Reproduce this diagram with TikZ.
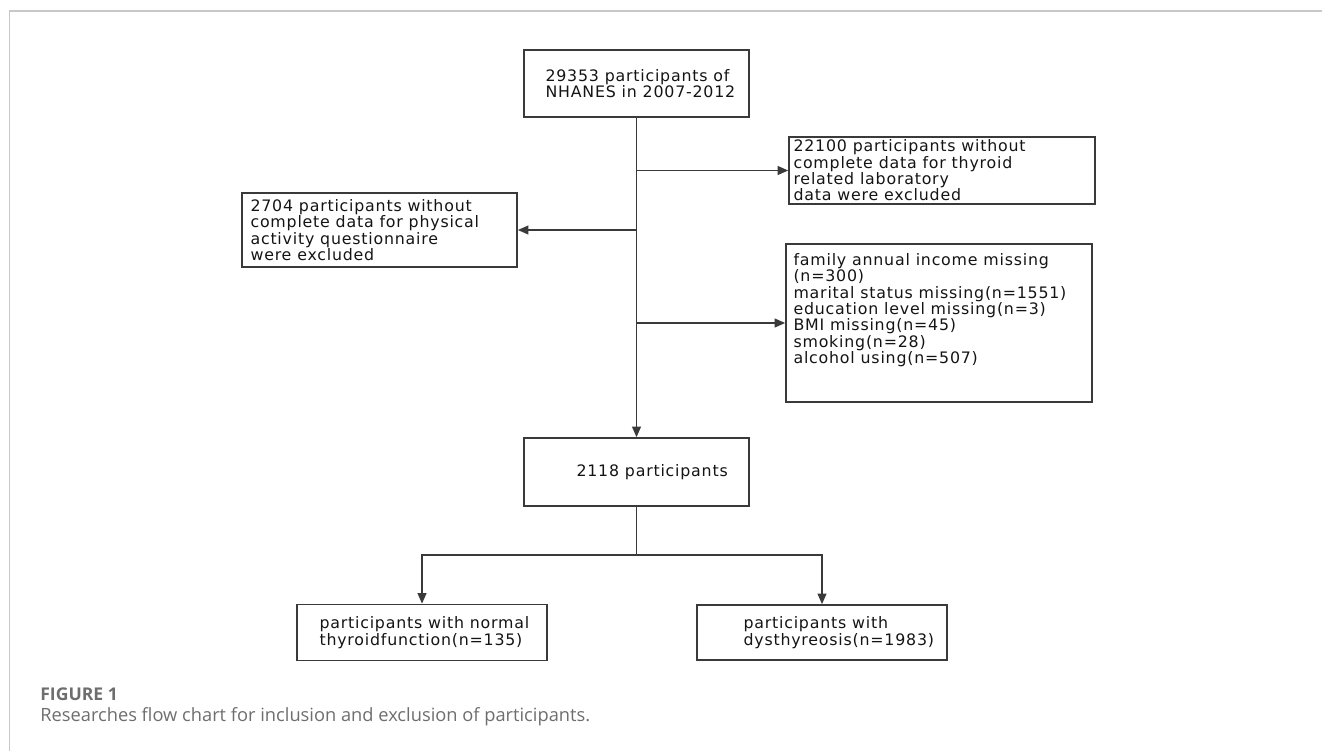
\documentclass[tikz,border=0pt]{standalone}
\usepackage{fontspec}
\usepackage{tikz}
\usetikzlibrary{arrows.meta}
\usetikzlibrary{positioning}
\newfontfamily\boxfont[LetterSpace=5]{DejaVu Sans}
\newfontfamily\capfont{Open Sans}
\definecolor{boxline}{HTML}{3A3A3A}
\definecolor{frameline}{HTML}{C8C8C8}
\definecolor{capgray}{HTML}{6E6E6E}
\tikzset{
    flowbox/.style={draw=boxline, line width=0.95pt, rectangle, inner sep=0pt},
    boxtext/.style={inner sep=0pt, align=left, text=black!92,
        font=\boxfont\fontsize{9}{9.3}\selectfont},
    flow/.style={draw=boxline, line width=0.95pt, -{Triangle[length=6pt,width=5pt]}},
    link/.style={draw=boxline, line width=0.95pt},
    captext/.style={anchor=west, inner sep=0pt, text=capgray},
}

\begin{document}
\begin{tikzpicture}[x=0.02cm, y=-0.02cm]
\useasboundingbox (0,0) rectangle (1322,751);
% panel frame
\draw[frameline, line width=0.6pt] (1322,11) -- (9.5,11) -- (9.5,751);

% boxes
\node[flowbox, minimum width=4.5cm, minimum height=1.34cm] (start) at (636.5,83.5) {};
\node[flowbox, minimum width=6.12cm, minimum height=1.34cm] (lab) at (942,170.5) {};
\node[flowbox, minimum width=5.5cm, minimum height=1.48cm] (pa) at (379.5,230) {};
\node[flowbox, minimum width=6.12cm, minimum height=3.16cm] (cov) at (939,323) {};
\node[flowbox, minimum width=4.5cm, minimum height=1.36cm] (final) at (636.5,472) {};
\node[flowbox, minimum width=5cm, minimum height=1.12cm] (normal) at (422,632.5) {};
\node[flowbox, minimum width=5cm, minimum height=1.1cm] (dys) at (822,632.5) {};

% texts
\node[boxtext, anchor=west] (starttext) at ([xshift=0.44cm]start.west)
    {29353 participants of\\NHANES in 2007-2012};
\node[boxtext, anchor=west] (labtext) at ([xshift=0.1cm]lab.west)
    {22100 participants without\\complete data for thyroid\\related laboratory\\data were excluded};
\node[boxtext, anchor=west] (patext) at ([xshift=0.18cm]pa.west)
    {2704 participants without\\complete data for physical\\activity questionnaire\\were excluded};
\node[boxtext, anchor=north west] (covtext) at ([xshift=0.16cm,yshift=-0.2cm]cov.north west)
    {family annual income missing\\(n=300)\\marital status missing(n=1551)\\education level missing(n=3)\\BMI missing(n=45)\\smoking(n=28)\\alcohol using(n=507)};
\node[boxtext, anchor=west] (finaltext) at ([xshift=1.06cm]final.west) {2118 participants};
\node[boxtext, anchor=west] (normaltext) at ([xshift=0.46cm]normal.west)
    {participants with normal\\thyroidfunction(n=135)};
\node[boxtext, anchor=west] (dystext) at ([xshift=0.94cm]dys.west)
    {participants with\\dysthyreosis(n=1983)};

% connectors
\draw[flow] (start.south) -- (final.north);
\draw[flow] (start.south |- lab.west) -- (lab.west);
\draw[flow] (start.south |- pa.east) -- (pa.east);
\draw[flow] (start.south |- cov.west) -- (cov.west);
\coordinate (split) at (636.5,555);
\draw[link] (final.south) -- (split);
\draw[flow] (split) -| (normal.north);
\draw[flow] (split) -| (dys.north);

% caption
\node[captext, font=\capfont\bfseries\fontsize{10}{12}\selectfont] (figlabel) at (40,694) {FIGURE 1};
\node[captext, font=\capfont\fontsize{10.4}{12}\selectfont] (caption) at (40,717)
    {Researches flow chart for inclusion and exclusion of participants.};
\end{tikzpicture}
\end{document}
